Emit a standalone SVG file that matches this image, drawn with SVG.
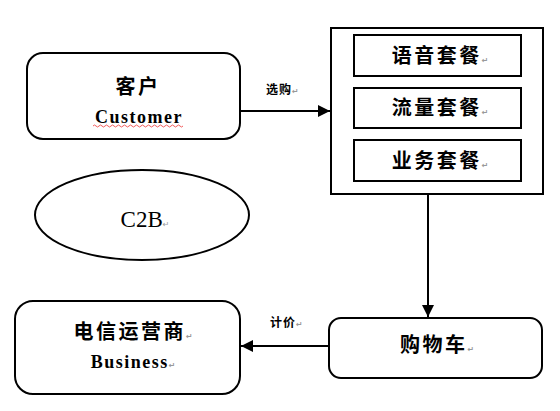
<svg xmlns="http://www.w3.org/2000/svg" width="560" height="411" viewBox="0 0 560 411">
<style>
.box{fill:#fff;stroke:#000;stroke-width:2}
.cn{font-family:"Noto Sans CJK SC",sans-serif;font-weight:bold;fill:#000;text-anchor:middle;letter-spacing:2.5px}
.en{font-family:"Liberation Serif",serif;font-weight:bold;fill:#000;text-anchor:middle;letter-spacing:1.5px}
.lbl{font-family:"Noto Sans CJK SC",sans-serif;font-weight:bold;font-size:12px;fill:#000;letter-spacing:1px}
.ret{font-family:"DejaVu Sans",sans-serif;font-size:8px;fill:#999;letter-spacing:0}
.conn{stroke:#000;stroke-width:2;fill:none}
</style>
<defs>
<marker id="ah" markerWidth="12" markerHeight="12" refX="12" refY="6" orient="auto" markerUnits="userSpaceOnUse">
<path d="M0,0 L12,6 L0,12 Z" fill="#000"/>
</marker>
</defs>
<rect width="560" height="411" fill="#fff"/>
<g id="connectors">
<line class="conn" x1="240" y1="111" x2="330" y2="111" marker-end="url(#ah)"/>
<line class="conn" x1="428" y1="194" x2="428" y2="317" marker-end="url(#ah)"/>
<line class="conn" x1="329" y1="346" x2="241" y2="346" marker-end="url(#ah)"/>
<text class="lbl" x="266" y="94">选购<tspan class="ret">↵</tspan></text>
<text class="lbl" x="270" y="327">计价<tspan class="ret">↵</tspan></text>
</g>
<g id="customer">
<rect class="box" x="27" y="53" width="213" height="86" rx="16"/>
<text class="cn" x="138" y="94" font-size="20">客户</text>
<text class="en" x="139" y="123" font-size="18">Customer</text>
<path d="M93,126 q1.5,-2 3,0 t3,0 t3,0 t3,0 t3,0 t3,0 t3,0 t3,0 t3,0 t3,0 t3,0 t3,0 t3,0 t3,0 t3,0 t3,0 t3,0 t3,0 t3,0 t3,0 t3,0 t3,0 t3,0 t3,0 t3,0 t3,0 t3,0 t3,0 t3,0 t3,0" fill="none" stroke="#e33" stroke-width="0.8"/>
</g>
<g id="packages">
<rect class="box" x="331" y="28" width="212" height="166"/>
<g id="voice">
<rect class="box" x="354" y="35" width="167" height="41"/>
<text class="cn" x="440" y="63" font-size="20">语音套餐<tspan class="ret">↵</tspan></text>
</g>
<g id="data">
<rect class="box" x="354" y="88" width="167" height="40"/>
<text class="cn" x="440" y="115" font-size="20">流量套餐<tspan class="ret">↵</tspan></text>
</g>
<g id="service">
<rect class="box" x="354" y="140" width="167" height="41"/>
<text class="cn" x="440" y="168" font-size="20">业务套餐<tspan class="ret">↵</tspan></text>
</g>
</g>
<g id="c2b">
<ellipse cx="142" cy="215" rx="107" ry="45" fill="#fff" stroke="#000" stroke-width="2"/>
<text x="145" y="227" font-family="Liberation Serif,serif" font-size="23" text-anchor="middle" fill="#000">C2B<tspan class="ret">↵</tspan></text>
</g>
<g id="cart">
<rect class="box" x="329" y="318" width="213" height="60" rx="12"/>
<text class="cn" x="437" y="352" font-size="20">购物车<tspan class="ret">↵</tspan></text>
</g>
<g id="business">
<rect class="box" x="15" y="301" width="225" height="93" rx="18"/>
<text class="cn" x="133" y="339" font-size="20">电信运营商<tspan class="ret">↵</tspan></text>
<text class="en" x="133" y="368" font-size="18">Business<tspan class="ret">↵</tspan></text>
</g>
</svg>
